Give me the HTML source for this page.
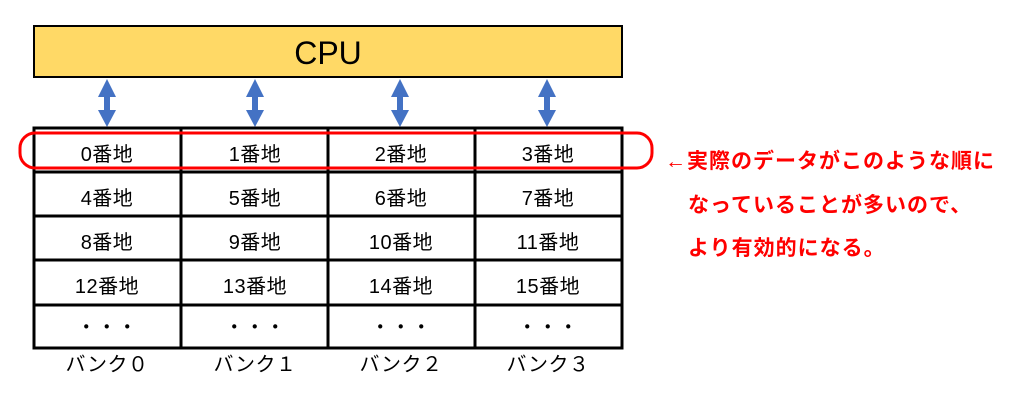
<!DOCTYPE html>
<html><head><meta charset="utf-8"><style>
body{margin:0;background:#fff;}
svg text{font-family:"Liberation Sans","Noto Sans CJK JP",sans-serif;}
</style></head><body>
<svg width="1020" height="400" viewBox="0 0 1020 400" xmlns="http://www.w3.org/2000/svg">
<rect x="34" y="26" width="588" height="51" fill="#ffd966" stroke="#000" stroke-width="2"/>
<text x="328" y="64" font-size="32" text-anchor="middle">CPU</text>
<g fill="#4472c4">
<g id="a"><polygon points="107,79 98,97 116,97"/><rect x="104" y="96" width="6" height="16"/><polygon points="107,127 98,110 116,110"/></g>
<use href="#a" x="148"/><use href="#a" x="293"/><use href="#a" x="440"/>
</g>
<g stroke="#000" stroke-width="3" fill="none">
<rect x="34" y="128" width="588" height="220"/>
<line x1="34" y1="172" x2="622" y2="172"/><line x1="34" y1="216" x2="622" y2="216"/>
<line x1="34" y1="260" x2="622" y2="260"/><line x1="34" y1="305" x2="622" y2="305"/>
<line x1="181" y1="128" x2="181" y2="348"/><line x1="328" y1="128" x2="328" y2="348"/><line x1="475" y1="128" x2="475" y2="348"/>
</g>
<g font-size="20" text-anchor="middle" fill="#000" letter-spacing="0.5">
<text x="107" y="161">0番地</text><text x="255" y="161">1番地</text><text x="401" y="161">2番地</text><text x="548" y="161">3番地</text>
<text x="107" y="205">4番地</text><text x="255" y="205">5番地</text><text x="401" y="205">6番地</text><text x="548" y="205">7番地</text>
<text x="107" y="249">8番地</text><text x="255" y="249">9番地</text><text x="401" y="249">10番地</text><text x="548" y="249">11番地</text>
<text x="107" y="293">12番地</text><text x="255" y="293">13番地</text><text x="401" y="293">14番地</text><text x="548" y="293">15番地</text>
<text x="107" y="334">・・・</text><text x="255" y="334">・・・</text><text x="401" y="334">・・・</text><text x="548" y="334">・・・</text>
<text x="107" y="371">バンク０</text><text x="255" y="371">バンク１</text><text x="401" y="371">バンク２</text><text x="548" y="371">バンク３</text>
</g>
<rect x="20" y="133" width="632" height="35" rx="15" fill="none" stroke="#f00" stroke-width="3"/>
<g font-size="21" fill="#f00" font-weight="bold" letter-spacing="1">
<text x="665" y="168">←実際のデータがこのような順に</text>
<text x="688" y="212">なっていることが多いので、</text>
<text x="688" y="255">より有効的になる。</text>
</g>
</svg>
</body></html>
